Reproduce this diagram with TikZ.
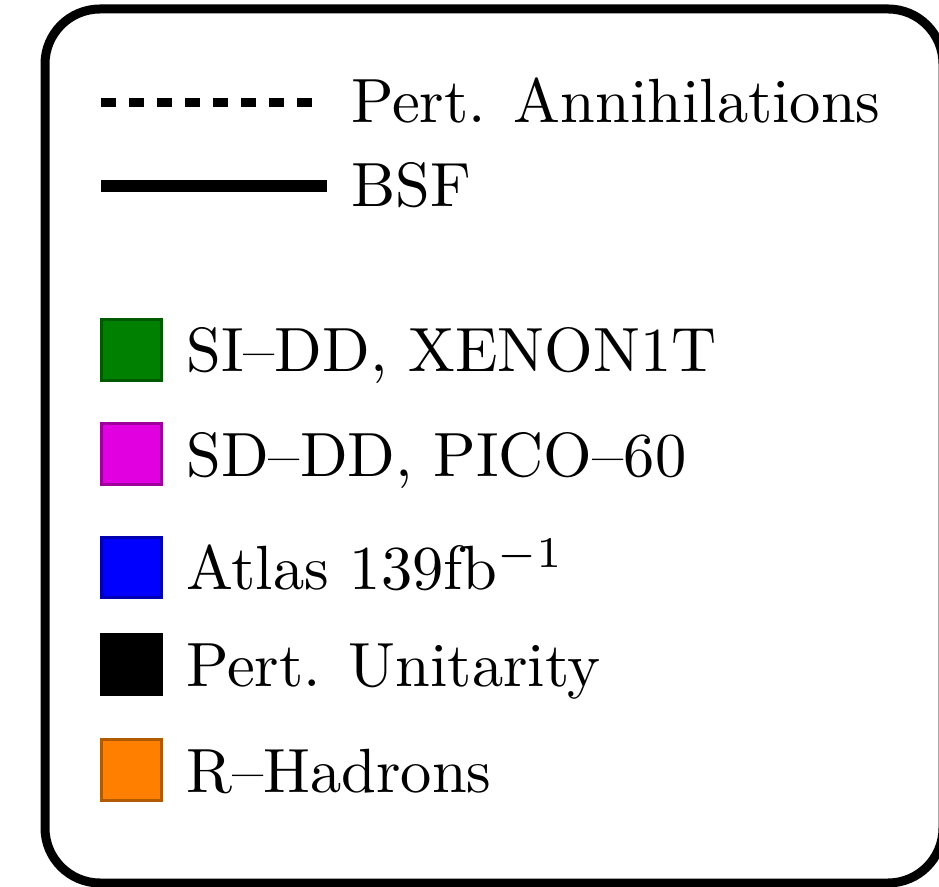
\documentclass[tikz,border=0pt]{standalone}
\usepackage{xcolor}
\usepackage{tikz}
\definecolor{LimitGreen}{HTML}{008000}
\definecolor{LimitMagenta}{HTML}{E000E0}
\definecolor{LimitBlue}{HTML}{0000FF}
\definecolor{LimitOrange}{HTML}{FF8000}

\begin{document}
\begin{tikzpicture}[
  x=0.16pt,
  y=-0.16pt,
  font=\fontsize{10}{12}\selectfont,
  frame/.style={draw, line width=1.44pt, rounded corners=8.8pt},
  label/.style={anchor=base west, inner sep=0pt},
  swatch/.style={
    rectangle,
    inner sep=0pt,
    minimum size=9.7pt,
    line width=0.5pt,
    fill=#1,
    draw=#1!70!black
  },
  annline/.style={line width=1.44pt, dash pattern=on 2.4pt off 2.08pt},
  bsfline/.style={line width=2pt}
]
\clip (0,0) rectangle (939,887);
\draw[frame] (45,9) rectangle (943,883);

% line styles
\coordinate (annA) at (101,103);
\coordinate (annB) at (313,103);
\coordinate (bsfA) at (101,186);
\coordinate (bsfB) at (327,186);
\draw[annline] (annA) -- (annB);
\draw[bsfline] (bsfA) -- (bsfB);
\node[label] (annlabel) at (350,123) {Pert. Annihilations};
\node[label] (bsflabel) at (350,207) {BSF};

% excluded regions
\node[swatch=LimitGreen] (sidd) at (131.5,350) {};
\node[swatch=LimitMagenta] (sddd) at (131.5,454) {};
\node[swatch=LimitBlue] (atlas) at (131.5,567.5) {};
\node[swatch=black] (unit) at (131.5,664.5) {};
\node[swatch=LimitOrange] (rhad) at (131.5,770) {};

\node[label] (siddlabel) at (185,372) {SI--DD, XENON1T};
\node[label] (sddlabel) at (185,477) {SD--DD, PICO--60};
\node[label] (atlaslabel) at (185,590) {Atlas 139fb$^{-1}$};
\node[label] (unitlabel) at (185,687) {Pert. Unitarity};
\node[label] (rhadlabel) at (185,792) {R--Hadrons};
\end{tikzpicture}
\end{document}
